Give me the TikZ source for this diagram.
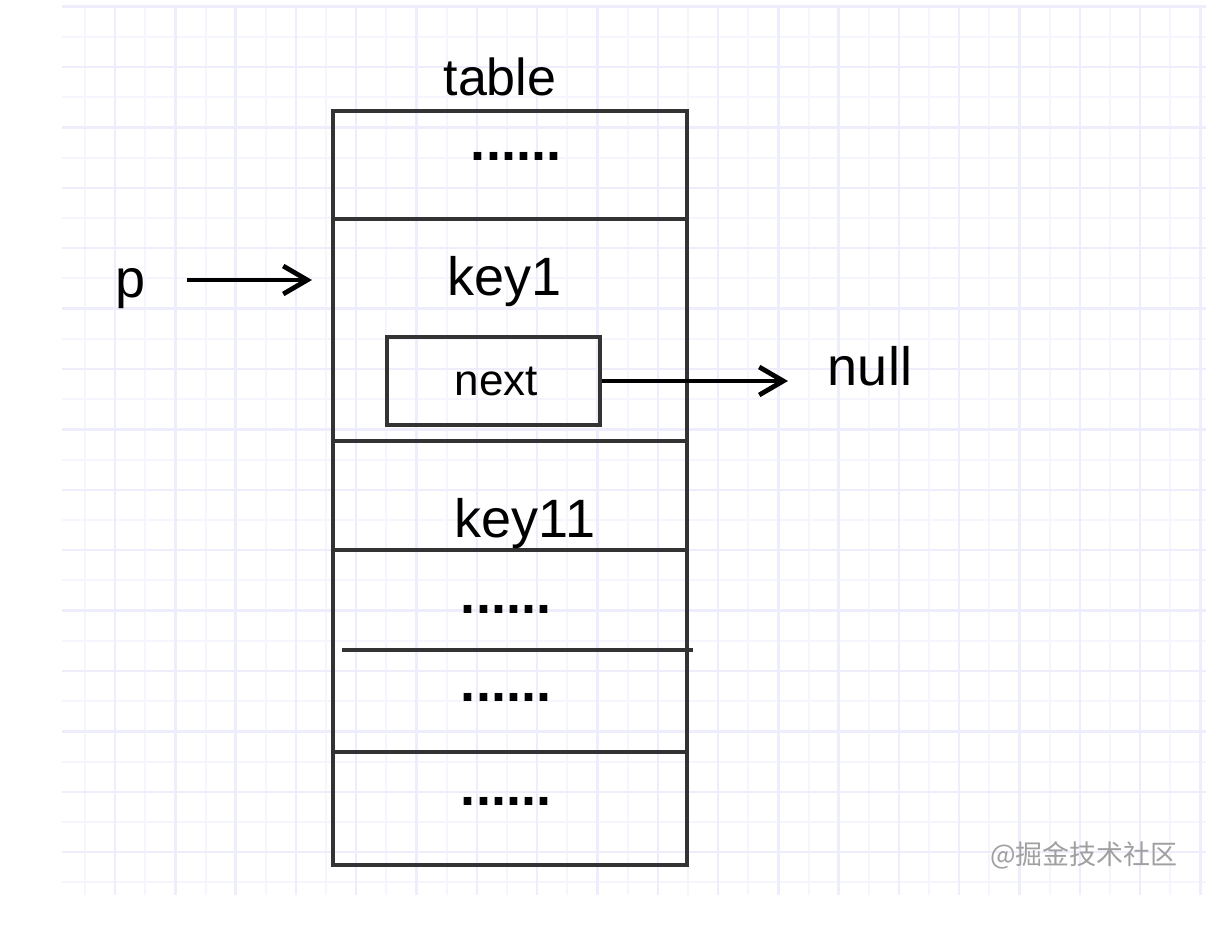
\documentclass[tikz,border=0pt]{standalone}
\usepackage{fontspec}
\setmainfont{Liberation Sans}
\newfontfamily\cjk{Noto Sans CJK SC}
\usepackage{xcolor}
\definecolor{gridminor}{HTML}{F5F5FD}
\definecolor{gridmajor}{HTML}{EDEDFB}
\definecolor{ink}{HTML}{333333}
\definecolor{wmgray}{HTML}{A0A0A0}
\usetikzlibrary{arrows.meta}

\begin{document}
\begin{tikzpicture}[x=0.5pt,y=-0.5pt,
  cellline/.style={draw=ink,line width=2.2pt},
  lbl/.style={font=\fontsize{27}{32}\selectfont,anchor=base},
  dots/.style={font=\fontsize{27}{32}\selectfont\bfseries,anchor=base},
  ptr/.style={-{Straight Barb[length=12pt,width=14pt]},draw=black,line width=2.4pt}]
  % paper with grid
  \fill[white] (0,0) rectangle (1228,928);
  \foreach \gx in {0,...,37}
    \draw[gridminor,line width=1pt] ({84.9+30.15*\gx},6.6) -- ({84.9+30.15*\gx},895);
  \foreach \gy in {0,...,29}
    \draw[gridminor,line width=1pt] (62,{6.6+30.2*\gy}) -- (1206,{6.6+30.2*\gy});
  \foreach \gx in {0,...,18}
    \draw[gridmajor,line width=1.2pt] ({115.05+60.3*\gx},6.6) -- ({115.05+60.3*\gx},895);
  \foreach \gy in {0,...,14}
    \draw[gridmajor,line width=1.2pt] (62,{6.6+60.4*\gy}) -- (1206,{6.6+60.4*\gy});
  % table column
  \draw[cellline] (333,111) rectangle (687,865);
  \foreach \gy in {219,441,550,752}
    \draw[cellline] (333,\gy) -- (687,\gy);
  \draw[cellline] (342,650) -- (693,650);
  % labels
  \node[lbl,font=\fontsize{26}{30}\selectfont] (tablename) at (500,95) {table};
  \node[dots] (dotstop) at (516,160) {......};
  \node[lbl] (keyone) at (505,295) {key1};
  \node[lbl] (keyeleven) at (525,537) {key11};
  \node[dots] (dotsa) at (506,613) {......};
  \node[dots] (dotsb) at (506,701) {......};
  \node[dots] (dotsc) at (506,805) {......};
  \node[lbl] (pname) at (131,297) {p};
  \node[lbl] (nullname) at (870,385) {null};
  % next field
  \node[cellline,minimum width=106.5pt,minimum height=44pt,inner sep=0pt,
        font=\fontsize{22}{26}\selectfont] (nextbox) at (493.5,381) {\hspace{3pt}next};
  % pointers
  \coordinate (slotin) at (312,280);
  \coordinate (nullin) at (788,381);
  \draw[ptr,shorten <=17pt] (slotin -| pname.east) -- (slotin);
  \draw[ptr] (nextbox.east) -- (nullin);
  % watermark
  \node[wmgray,font=\cjk\fontsize{13.5}{16}\selectfont] (watermark) at (1084,855) {@掘金技术社区};
\end{tikzpicture}
\end{document}
